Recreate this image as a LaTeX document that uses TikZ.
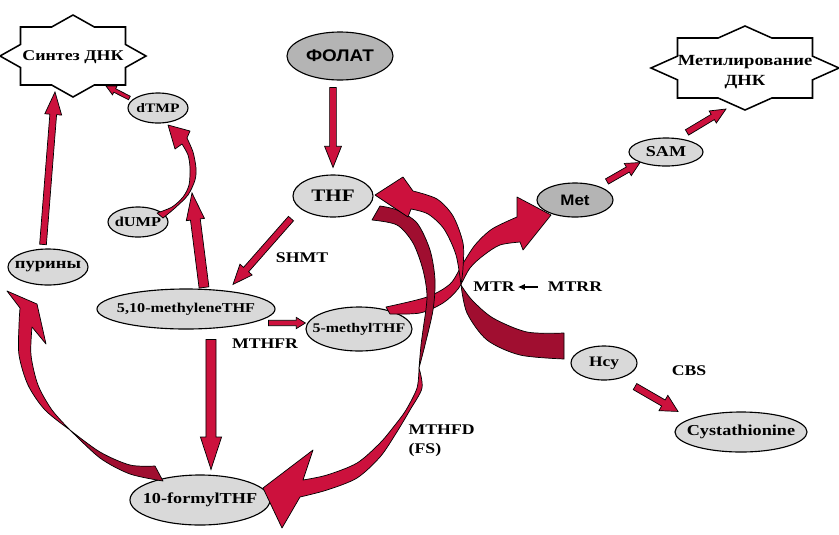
\documentclass[tikz,border=0pt]{standalone}
\usepackage{fontspec}
\setmainfont{Liberation Serif}[FakeStretch=1.2]
\newfontfamily\sansfont{Liberation Sans}[FakeStretch=1.12]
\usetikzlibrary{shapes.geometric, calc, arrows.meta}

\definecolor{arrowred}{RGB}{204,17,61}
\definecolor{arrowdark}{RGB}{160,14,48}
\definecolor{bubfill}{RGB}{217,217,217}
\definecolor{bubdark}{RGB}{180,180,180}

\tikzset{
  bub/.style={ellipse, draw=black, line width=0.8pt, fill=bubfill,
    inner xsep=-2em, inner ysep=0pt, font=\bfseries\fontsize{10.5}{12}\selectfont},
  lbl/.style={font=\bfseries\fontsize{10.5}{13.5}\selectfont, inner sep=1pt},
  ribbon/.style={draw=black, line width=0.5pt, fill=arrowred, line join=round},
  starline/.style={draw=black, line width=1.1pt, fill=white},
  % straight block arrow: shaft half width, head half width, head length
  blockarr/.style n args={3}{ribbon, line join=miter,
    to path={let \p1=(\tikztostart), \p2=(\tikztotarget),
      \n1={atan2(\y2-\y1,\x2-\x1)}, \n2={veclen(\x2-\x1,\y2-\y1)} in
      ($(\p1)+(\n1+90:#1)$) -- ($(\p1)+(\n1:\n2-#3)+(\n1+90:#1)$)
      -- ($(\p1)+(\n1:\n2-#3)+(\n1+90:#2)$) -- (\p2)
      -- ($(\p1)+(\n1:\n2-#3)+(\n1-90:#2)$) -- ($(\p1)+(\n1:\n2-#3)+(\n1-90:#1)$)
      -- ($(\p1)+(\n1-90:#1)$) -- cycle}},
}

% star frame: centre, half sizes of the box (a,b) and of the diamond (A,B)
\newcommand{\dnkstar}[5]{%
  \pgfmathsetmacro\starT{#4*(1-#3/#5)}%
  \pgfmathsetmacro\starU{#5*(1-#2/#4)}%
  \draw[starline, shift={#1}] (-#2,#3) -- (-\starT,#3) -- (0,#5) -- (\starT,#3)
    -- (#2,#3) -- (#2,\starU) -- (#4,0) -- (#2,-\starU) -- (#2,-#3) -- (\starT,-#3)
    -- (0,-#5) -- (-\starT,-#3) -- (-#2,-#3) -- (-#2,-\starU) -- (-#4,0)
    -- (-#2,\starU) -- cycle;}

\begin{document}
\begin{tikzpicture}[x=0.025cm, y=0.025cm]
    \useasboundingbox (0,0) rectangle (839,-534);

    \dnkstar{(73,-56)}{52.5}{29}{73}{41}
    \node[font=\bfseries\fontsize{10.6}{12}\selectfont] (sintez) at (73,-57) {Синтез ДНК};
    \dnkstar{(745,-68)}{67.5}{30}{94}{42}
    \node[font=\bfseries\fontsize{11}{14}\selectfont, align=center] (methylation) at (745,-72) {Метилирование\\ДНК};

    \node[bub, fill=bubdark, font=\sansfont\bfseries\fontsize{12}{14}\selectfont,
      minimum width=2.65cm, minimum height=1.2cm] (folat) at (340,-56) {ФОЛАТ};
    \node[bub, font=\bfseries\fontsize{12.5}{14}\selectfont,
      minimum width=2cm, minimum height=1.05cm] (thf) at (333,-196) {THF};
    \node[bub, font=\bfseries\fontsize{9.2}{11}\selectfont,
      minimum width=1.5cm, minimum height=0.75cm] (dtmp) at (158,-108) {dTMP};
    \node[bub, font=\bfseries\fontsize{9.7}{11}\selectfont,
      minimum width=1.5cm, minimum height=0.75cm] (dump) at (138,-222) {dUMP};
    \node[bub, font=\bfseries\fontsize{11}{12}\selectfont,
      minimum width=2cm, minimum height=0.9cm] (purines) at (48,-267) {пурины};
    \node[bub, font=\bfseries\fontsize{9.6}{11}\selectfont,
      minimum width=4.45cm, minimum height=1cm] (methylene) at (186,-309) {5,10-methyleneTHF};
    \node[bub, font=\bfseries\fontsize{9.4}{11}\selectfont,
      minimum width=2.65cm, minimum height=1.1cm] (methyl5) at (359,-329) {5-methylTHF};
    \node[bub, font=\bfseries\fontsize{10.8}{12}\selectfont,
      minimum width=3.5cm, minimum height=1.25cm] (formyl) at (200,-500) {10-formylTHF};
    \node[bub, fill=bubdark, font=\sansfont\bfseries\fontsize{10.8}{12}\selectfont,
      minimum width=1.9cm, minimum height=0.85cm] (met) at (575,-200) {Met};
    \node[bub, font=\bfseries\fontsize{10.7}{12}\selectfont,
      minimum width=1.85cm, minimum height=0.7cm] (sam) at (666,-152) {SAM};
    \node[bub, font=\bfseries\fontsize{10.3}{12}\selectfont,
      minimum width=1.65cm, minimum height=0.85cm] (hcy) at (604,-363) {Hcy};
    \node[bub, font=\bfseries\fontsize{10.8}{12}\selectfont,
      minimum width=3.3cm, minimum height=1cm] (cysta) at (741,-432) {Cystathionine};

    \node[lbl] (shmt) at (302,-258) {SHMT};
    \node[lbl] (mthfr) at (265,-344) {MTHFR};
    \node[lbl] (mtr) at (494,-287) {MTR};
    \node[lbl] (mtrr) at (575,-287) {MTRR};
    \node[lbl] (cbs) at (689,-371) {CBS};
    \node[lbl, align=left, anchor=west] (mthfd) at (407,-441) {MTHFD\\(FS)};

    \coordinate (dumpjoin) at (192,-193);

    \draw[blockarr={2.4pt}{6pt}{15pt}] ([shift={(-7,-7)}]folat.south) to ([shift={(0,7)}]thf.north);
    \draw[blockarr={2.4pt}{5.8pt}{14pt}] ([shift={(-42,-1)}]thf.south) to ([shift={(47,4)}]methylene.north);
    \draw[blockarr={1.9pt}{4pt}{6.5pt}] ([shift={(-7,-14)}]methylene.east) to ([shift={(0,6)}]methyl5.west);
    \draw[blockarr={3.6pt}{7.5pt}{23pt}] ([shift={(25,-10)}]methylene.south) to ([shift={(11,5)}]formyl.north);
    \draw[blockarr={3.5pt}{6.5pt}{19pt}] ([shift={(18,1)}]methylene.north) to (dumpjoin);
    \draw[blockarr={2.4pt}{6pt}{16pt}] ([shift={(-5,4)}]purines.north) to ([shift={(-18,-35)}]sintez.center);
    \draw[blockarr={1.4pt}{3.5pt}{7pt}] ([shift={(2,10)}]dtmp.west) to ([shift={(33,-29)}]sintez.center);
    \draw[blockarr={2.1pt}{5pt}{10pt}] ([shift={(32,1)}]met.north) to ([shift={(-26,4)}]sam.south);
    \draw[blockarr={2.2pt}{5pt}{11pt}] ([shift={(21,5)}]sam.north) to ([shift={(-19,-37)}]methylation.center);
    \draw[blockarr={2.5pt}{6.3pt}{12pt}] ([shift={(31,-6)}]hcy.south) to ([shift={(-63,0)}]cysta.north);

    % 5-methylTHF -> Met
    \filldraw[ribbon] plot[smooth] coordinates {(386,-307) (427,-297) (450,-284) (462,-265) (475,-245) (492,-229) (517,-217)}
      -- (517,-197) -- (551,-215) -- (523,-250) -- (520,-242)
      -- plot[smooth] coordinates {(520,-242) (500,-245) (484,-255) (470,-268) (458,-289) (443,-303) (420,-313) (390,-314)} -- cycle;

    % THF -> 10-formylTHF
    \filldraw[ribbon, fill=arrowdark] plot[smooth] coordinates {(380,-206) (397,-210) (417,-223) (430,-250) (435,-280) (433,-310) (425,-345) (419,-368)}
      -- plot[smooth] coordinates {(419,-368) (421,-345) (423,-330) (427,-297) (423,-270) (413,-243) (397,-225) (372,-220)} -- cycle;
    \filldraw[ribbon] plot[smooth] coordinates {(419,-368) (417,-388) (406,-410) (395,-425) (380,-443) (357,-463) (327,-475) (303,-480)}
      -- (313,-450) -- (263,-488) -- (282,-528) -- (300,-497)
      -- plot[smooth] coordinates {(300,-497) (327,-490) (357,-478) (380,-457) (395,-435) (410,-410) (422,-388) (419,-368)} -- cycle;

    % Hcy -> THF
    \filldraw[ribbon, fill=arrowdark] plot[smooth] coordinates {(564,-333) (527,-332) (493,-318) (472,-300) (461,-285)}
      -- plot[smooth] coordinates {(461,-285) (467,-313) (487,-340) (520,-355) (564,-359)} -- cycle;
    \filldraw[ribbon] plot[smooth] coordinates {(461,-285) (456,-255) (444,-229) (428,-214) (411,-209)}
      -- (408,-217) -- (375,-195) -- (403,-177) -- (413,-191)
      -- plot[smooth] coordinates {(413,-191) (437,-199) (453,-216) (463,-243) (463,-268) (461,-285)} -- cycle;

    % 10-formylTHF -> purines
    \filldraw[ribbon, fill=arrowdark] plot[smooth] coordinates {(70,-430) (100,-452) (130,-465) (155,-466)}
      -- (163,-481) -- plot[smooth] coordinates {(163,-481) (130,-474) (100,-458) (70,-430)} -- cycle;
    \filldraw[ribbon] plot[smooth] coordinates {(70,-430) (52,-410) (38,-385) (31,-355) (32,-327)}
      -- (46,-344) -- (37,-304) -- (7,-291) -- (20,-308)
      -- plot[smooth] coordinates {(20,-308) (19,-325) (19,-355) (28,-385) (45,-410) (70,-430)} -- cycle;

    % dUMP -> dTMP
    \filldraw[ribbon] plot[smooth] coordinates {(157,-213) (172,-207) (183,-197) (189,-185) (190,-168) (188,-155) (182,-144)}
      -- (175,-149) -- (168,-125) -- (190,-131) -- (187,-138)
      -- plot[smooth] coordinates {(187,-138) (193,-152) (196,-168) (195,-180) (188,-195) (175,-208) (163,-218)} -- cycle;

    \draw[-{Latex[length=5pt,width=4.5pt]}, line width=0.9pt, shorten <=6pt, shorten >=1pt] (mtrr) -- (mtr);
  \end{tikzpicture}
\end{document}
